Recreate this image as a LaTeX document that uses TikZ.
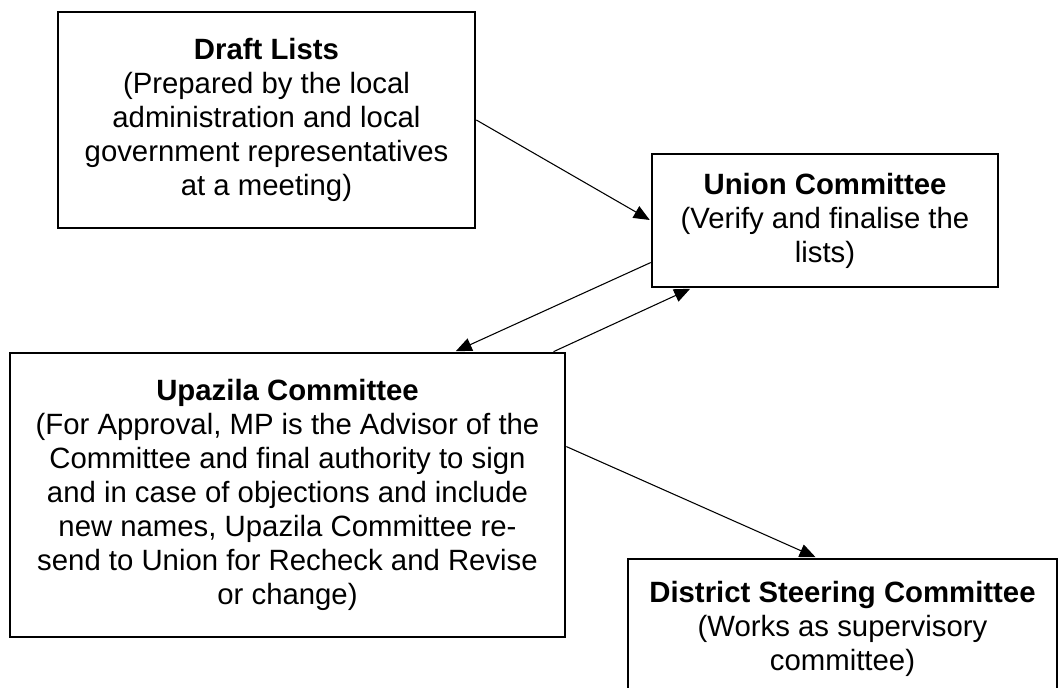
\documentclass[tikz,border=0pt]{standalone}
\usepackage{fontspec}
\setmainfont{Liberation Sans}
\usetikzlibrary{arrows.meta,calc}

\tikzset{
  stagebox/.style={draw=black, line width=2pt, fill=white, align=center,
    inner sep=0pt, font=\fontsize{22}{25.5}\selectfont},
  flow/.style={draw=black, line width=0.8pt,
    -{Triangle[length=12pt,width=10pt]}, shorten >=0.8pt}
}

\begin{document}
\begin{tikzpicture}[x=0.75pt, y=-0.75pt]
  \useasboundingbox (0,0) rectangle (1060,687);
  \clip (0,0) rectangle (1060,687);

  % stages of the list approval process
  \node[stagebox, minimum width=312.75pt, minimum height=162pt] (draft) at (266.5,120)
    {\textbf{Draft Lists}\\(Prepared by the local\\administration and local\\government representatives\\at a meeting)};

  \node[stagebox, minimum width=259.5pt, minimum height=99.75pt] (union) at (825,220.5)
    {\textbf{Union Committee}\\(Verify and finalise the\\lists)};

  \node[stagebox, minimum width=416.25pt, minimum height=213pt] (upazila) at (287.5,495)
    {\textbf{Upazila Committee}\\(For Approval, MP is the Advisor of the\\Committee and final authority to sign\\and in case of objections and include\\new names, Upazila Committee re-\\send to Union for Recheck and Revise\\or change)};

  \node[stagebox, minimum width=321.75pt, minimum height=105pt] (district) at (842.5,629)
    {\textbf{District Steering Committee}\\(Works as supervisory\\committee)};

  % connectors
  \draw[flow] (draft.east) -- (union.west);
  \draw[flow] ($(union.north west)!0.81!(union.south west)$)
           -- ($(upazila.north west)!0.80!(upazila.north east)$);
  \draw[flow] ($(upazila.north west)!0.977!(upazila.north east)$)
           -- ($(union.south west)!0.116!(union.south east)$);
  \draw[flow] ($(upazila.north east)!0.331!(upazila.south east)$)
           -- ($(district.north west)!0.44!(district.north east)$);
\end{tikzpicture}
\end{document}
